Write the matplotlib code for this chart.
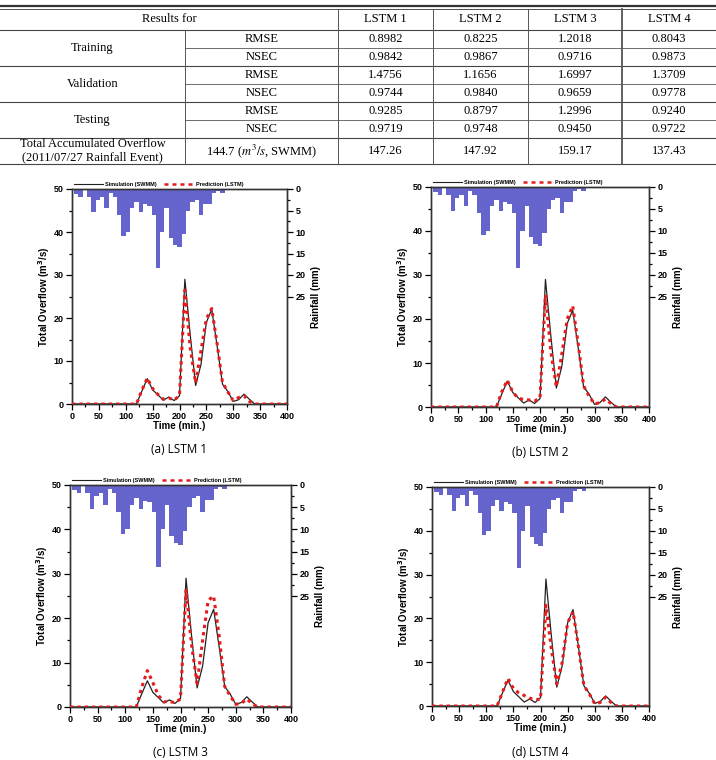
import numpy as np
import matplotlib
matplotlib.use('Agg')
from matplotlib import pyplot as plt
from matplotlib.lines import Line2D

# table values
models = ['LSTM 1', 'LSTM 2', 'LSTM 3', 'LSTM 4']
rmse_train = [0.8982, 0.8225, 1.2018, 0.8043]
nsec_train = [0.9842, 0.9867, 0.9716, 0.9873]
rmse_val = [1.4756, 1.1656, 1.6997, 1.3709]
nsec_val = [0.9744, 0.9840, 0.9659, 0.9778]
rmse_test = [0.9285, 0.8797, 1.2996, 0.9240]
nsec_test = [0.9719, 0.9748, 0.9450, 0.9722]
total_overflow = [147.26, 147.92, 159.17, 137.43]
swmm_total = 144.7

# rainfall (mm), 8-min bars
rain_time = np.arange(8, 296, 8)
rain = [1.2, 1.9, 0.0, 1.9, 5.4, 2.5, 1.9, 4.4, 0.9, 1.9, 6.0, 11.0,
        10.0, 4.4, 3.0, 5.4, 3.5, 3.9, 6.0, 18.4, 10.0, 4.4, 11.4, 13.0,
        13.5, 10.4, 5.0, 3.0, 2.5, 6.0, 3.4, 3.4, 0.9, 0.5, 0.9, 0.3]

# overflow (m3/s), every 10 min
time = np.arange(0, 401, 10)
z13 = [0] * 13
z7 = [0] * 7
sim = z13 + [3.0, 5.9, 3.3, 2.1, 0.9, 1.6, 0.8, 1.9, 29.0, 16.0, 4.3, 9.2,
             19.0, 22.0, 13.5, 4.6, 2.9, 0.6, 1.0, 2.3, 1.1] + z7
pred1 = z13 + [3.2, 6.0, 3.6, 2.2, 1.1, 1.4, 0.9, 2.0, 26.5, 13.0, 4.9, 12.5,
               19.8, 22.2, 14.0, 5.0, 2.8, 0.8, 1.5, 1.9, 0.6] + z7
pred2 = z13 + [3.5, 6.1, 3.4, 2.0, 1.7, 1.6, 1.4, 2.0, 25.5, 12.5, 4.6, 12.0,
               20.0, 23.0, 14.5, 4.8, 2.5, 0.7, 1.0, 1.8, 0.8] + z7
pred3 = z13 + [4.5, 8.2, 5.5, 2.6, 1.2, 1.2, 1.0, 1.8, 26.5, 14.0, 5.3, 15.0,
               24.0, 25.0, 16.0, 4.6, 2.5, 0.6, 0.8, 1.8, 0.7] + z7
pred4 = z13 + [3.2, 6.3, 4.0, 3.0, 2.4, 1.8, 1.5, 1.5, 23.0, 13.0, 5.0, 10.0,
               19.0, 21.5, 13.5, 4.6, 2.8, 0.5, 0.8, 2.0, 0.8] + z7
preds = [pred1, pred2, pred3, pred4]
captions = ['(a) LSTM 1', '(b) LSTM 2', '(c) LSTM 3', '(d) LSTM 4']

W, H = 716, 760
fig = plt.figure(figsize=(W / 100, H / 100), dpi=100)

# ---------------- table ----------------
tab = fig.add_axes([0, 0, 1, 1])
tab.set_xlim(0, W)
tab.set_ylim(H, 0)
tab.axis('off')

serif = dict(family='Liberation Serif', fontsize=9, ha='center', va='center')
cols = [0, 185, 338, 433, 528, 622, W]
rows = [9, 30, 48, 66, 84, 102, 120, 138, 164]

tab.plot([0, W], [6, 6], color='#333333', lw=1.6)
tab.plot([0, W], [9, 9], color='#333333', lw=0.6)
for i, y in enumerate(rows[1:]):
    if i in (1, 3, 5):
        tab.plot([cols[1], W], [y, y], color='#555555', lw=0.6)
    else:
        tab.plot([0, W], [y, y], color='#444444', lw=0.8)
tab.plot([cols[1], cols[1]], [rows[1], rows[-1]], color='#555555', lw=0.7)
for x in cols[2:6]:
    tab.plot([x, x], [rows[0], rows[-1]], color='#555555', lw=0.7 if x != 622 else 1.3)

cx = [(cols[i] + cols[i + 1]) / 2 for i in range(len(cols) - 1)]
ymid = [(rows[i] + rows[i + 1]) / 2 for i in range(len(rows) - 1)]
tab.text((cols[0] + cols[2]) / 2, ymid[0], 'Results for', **serif)
for j, m in enumerate(models):
    tab.text(cx[2 + j], ymid[0], m, **serif)

groups = ['Training', 'Validation', 'Testing']
values = [rmse_train, nsec_train, rmse_val, nsec_val, rmse_test, nsec_test]
for g, name in enumerate(groups):
    tab.text(cx[0], rows[1 + 2 * g + 1], name, **serif)
for r, vals in enumerate(values):
    tab.text(cx[1], ymid[1 + r], 'RMSE' if r % 2 == 0 else 'NSEC', **serif)
    for j, v in enumerate(vals):
        tab.text(cx[2 + j], ymid[1 + r], f'{v:.4f}', **serif)
tab.text(cx[0], ymid[7], 'Total Accumulated Overflow\n(2011/07/27 Rainfall Event)',
         linespacing=1.15, **serif)
tab.text(cx[1], ymid[7], f'{swmm_total} ($m^3/s$, SWMM)', math_fontfamily='stix', **serif)
for j, v in enumerate(total_overflow):
    tab.text(cx[2 + j], ymid[7], f'{v:.2f}', **serif)

# ---------------- panels ----------------
boxes = [(72, 287, 189, 404), (431, 649, 187, 407),
         (70, 291, 485, 707), (432, 649, 487, 706)]
sans = 'Liberation Sans'
tick_font = dict(family=sans, size=6.5, weight='bold')

for k, (x0, x1, y0, y1) in enumerate(boxes):
    ax = fig.add_axes([x0 / W, 1 - y1 / H, (x1 - x0) / W, (y1 - y0) / H])
    ax2 = ax.twinx()
    ax2.bar(rain_time, rain, width=8, color='#6464cc', edgecolor='none', zorder=1)
    ax2.set_ylim(50, 0)
    ax2.set_yticks(np.arange(0, 26, 5))
    ax2.set_yticks(np.arange(2.5, 25, 5), minor=True)
    ax2.set_ylabel('Rainfall (mm)', fontfamily=sans, fontsize=7, fontweight='bold', labelpad=4)

    ax.set_zorder(ax2.get_zorder() + 1)
    ax.patch.set_visible(False)
    ax.plot(time, sim, color='#222222', lw=0.9, zorder=3)
    ax.plot(time, preds[k], color='#e41c1c', lw=2.2, ls=(0, (1.1, 1.3)), zorder=4)
    ax.set_xlim(0, 400)
    ax.set_ylim(0, 50)
    ax.set_xticks(np.arange(0, 401, 50))
    ax.set_xticks(np.arange(25, 400, 50), minor=True)
    ax.set_yticks(np.arange(0, 51, 10))
    ax.set_yticks(np.arange(5, 50, 10), minor=True)
    ax.set_xlabel('Time (min.)', fontfamily=sans, fontsize=7, fontweight='bold', labelpad=0)
    ax.set_ylabel('Total Overflow (m$^\\mathbf{3}$/s)', fontfamily=sans, fontsize=7,
                  fontweight='bold', labelpad=1)

    for a in (ax, ax2):
        a.tick_params(which='major', direction='out', length=4, width=0.9, pad=2)
        a.tick_params(which='minor', direction='out', length=2.5, width=0.9)
        for lab in a.get_xticklabels() + a.get_yticklabels():
            lab.set_fontproperties(tick_font)
        for s in a.spines.values():
            s.set_linewidth(1.0)
            s.set_color('#333333')

    handles = [Line2D([], [], color='#222222', lw=0.8),
               Line2D([], [], color='#e41c1c', lw=1.8, ls=(0, (1.6, 1.6)))]
    ax.legend(handles, ['Simulation (SWMM)', 'Prediction (LSTM)'], ncol=2,
              loc='lower left', bbox_to_anchor=(0.0, 1.0), frameon=False,
              borderaxespad=0.1, handlelength=5.2, handletextpad=0.5,
              columnspacing=1.3, borderpad=0.2,
              prop=dict(family=sans, size=4, weight='bold'))

    fig.text((x0 + x1) / 2 / W, 1 - (y1 + 46) / H, captions[k],
             fontfamily='Open Sans', fontsize=8.5, ha='center', va='center')

fig.savefig('out.png', dpi=100)
